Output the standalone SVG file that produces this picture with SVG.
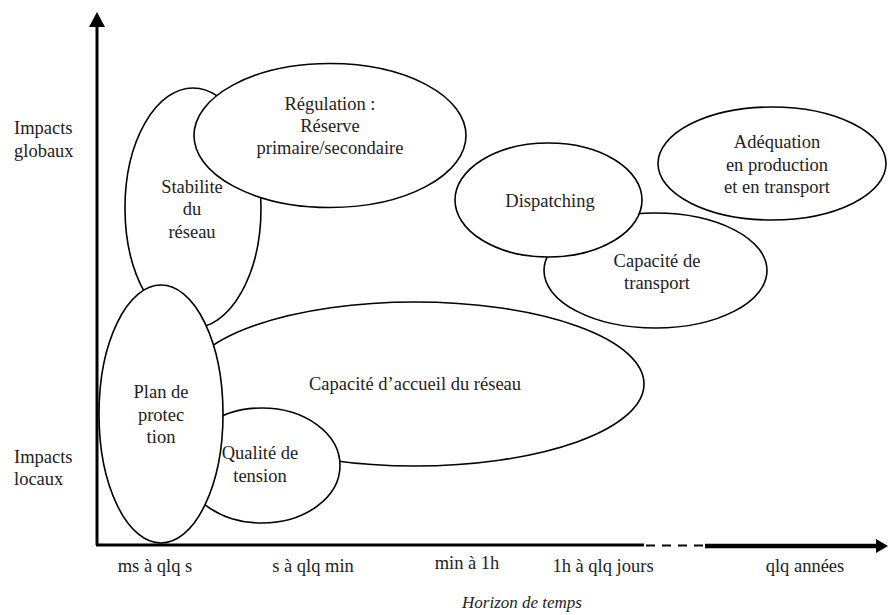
<svg xmlns="http://www.w3.org/2000/svg" width="888" height="615" viewBox="0 0 888 615">
<style>
.n{fill:#fff;stroke:#000;stroke-width:1.6}
text{font-family:"Liberation Serif","DejaVu Serif",serif;font-size:18.5px;fill:#222;text-anchor:middle}
.l{text-anchor:start}
.i{font-style:italic;font-size:17px}
.ax{stroke:#000;fill:none}
</style>
<rect width="888" height="615" fill="#fff"/>
<g id="axes">
<line class="ax" x1="97" y1="545" x2="97" y2="24" stroke-width="3"/>
<polygon points="97,12 105,27 89,27" fill="#000"/>
<line class="ax" x1="96" y1="545" x2="644" y2="545" stroke-width="3"/>
<line class="ax" x1="646" y1="545.5" x2="704" y2="545.5" stroke-width="2" stroke-dasharray="9 7"/>
<line class="ax" x1="705" y1="546" x2="878" y2="546" stroke-width="4.5"/>
<polygon points="888,546 876,539 876,553" fill="#000"/>
</g>
<g id="labels">
<text class="l" x="14" y="134">Impacts</text>
<text class="l" x="14" y="157">globaux</text>
<text class="l" x="14" y="463">Impacts</text>
<text class="l" x="14" y="485">locaux</text>
<text x="155" y="572">ms à qlq s</text>
<text x="313" y="572">s à qlq min</text>
<text x="467" y="569">min à 1h</text>
<text x="603" y="572">1h à qlq jours</text>
<text x="805" y="572">qlq années</text>
<text class="i" x="522" y="608">Horizon de temps</text>
</g>
<g id="stabilite"><ellipse class="n" cx="193" cy="208" rx="68" ry="120"/></g>
<g id="regulation"><ellipse class="n" cx="330" cy="135.5" rx="136" ry="72"/></g>
<g id="capacite-accueil"><ellipse class="n" cx="415" cy="384" rx="229" ry="82"/></g>
<g id="qualite"><ellipse class="n" cx="262" cy="465.5" rx="78" ry="57.5"/></g>
<g id="plan"><ellipse class="n" cx="161" cy="414" rx="62" ry="129"/></g>
<g id="capacite-transport"><ellipse class="n" cx="655.5" cy="270.5" rx="111.5" ry="57.5"/></g>
<g id="dispatching"><ellipse class="n" cx="548.5" cy="200" rx="93.5" ry="57"/></g>
<g id="adequation"><ellipse class="n" cx="772" cy="163.5" rx="114" ry="56.5"/></g>
<g id="texts">
<text x="192" y="193">Stabilite</text>
<text x="192" y="215">du</text>
<text x="192" y="238">réseau</text>
<text x="330" y="110">Régulation :</text>
<text x="330" y="132">Réserve</text>
<text x="330" y="154">primaire/secondaire</text>
<text x="415" y="390">Capacité d’accueil du réseau</text>
<text x="161" y="398">Plan de</text>
<text x="161" y="421">protec</text>
<text x="161" y="443">tion</text>
<text x="260" y="459">Qualité de</text>
<text x="260" y="482">tension</text>
<text x="550" y="207">Dispatching</text>
<text x="657" y="267">Capacité de</text>
<text x="657" y="289">transport</text>
<text x="777" y="148">Adéquation</text>
<text x="777" y="171">en production</text>
<text x="777" y="193">et en transport</text>
</g>
</svg>
